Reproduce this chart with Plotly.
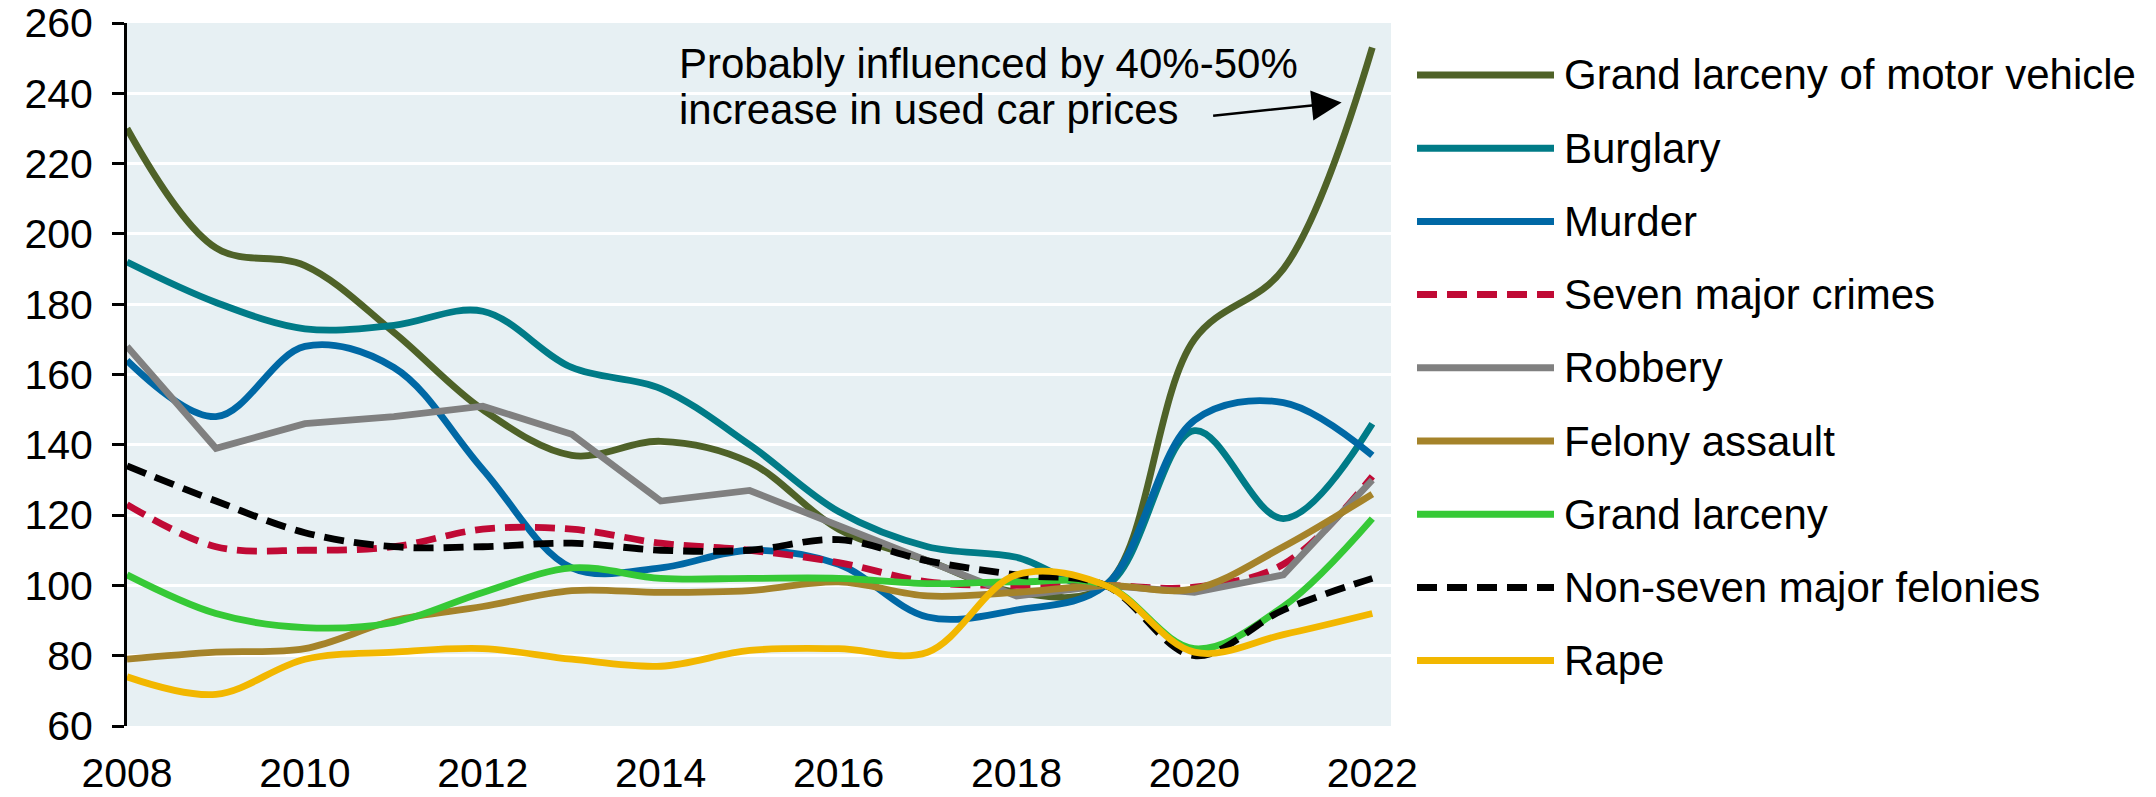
import plotly.graph_objects as go

years = list(range(2008, 2023))

series_names = [
    "Grand larceny of motor vehicle",
    "Burglary",
    "Murder",
    "Seven major crimes",
    "Robbery",
    "Felony assault",
    "Grand larceny",
    "Non-seven major felonies",
    "Rape",
]

motor_vehicle = [230, 196, 191, 172, 150, 137, 141, 135, 116, 107, 98, 100, 170, 190, 253]
burglary = [192, 180.5, 173, 174, 178, 162, 156, 140, 121, 111, 108, 100, 144, 119, 146]
murder = [164, 148, 168, 162, 133, 105, 105, 110, 106, 91, 93, 100, 147, 152, 137]
seven_major = [123, 111, 110, 111, 116, 116, 112, 110, 106.5, 101, 100, 100, 99.5, 106, 131]
robbery = [168, 139, 146, 148, 151, 143, 124, 127, 117, 107, 97, 100, 98, 103, 130]
felony_assault = [79, 81, 82, 90, 94, 98.5, 98, 98.5, 101, 97, 98, 100, 99, 111, 126]
grand_larceny = [103, 92, 88, 89.5, 98, 105, 102, 102, 102, 100.5, 101, 100, 82, 94, 119]
non_seven = [134, 124, 115, 111, 111, 112, 110, 110, 113, 107, 103, 100, 80, 93, 102]
rape = [74, 69, 79, 81, 82, 79, 77, 81.5, 82, 81, 103, 100, 81, 86, 92]

series_values = [motor_vehicle, burglary, murder, seven_major, robbery,
                 felony_assault, grand_larceny, non_seven, rape]

colors = ["#4F6228", "#007B87", "#0068A5", "#C00A35", "#808080",
          "#A5832A", "#36C936", "#000000", "#F2B700"]
dashes = ["solid", "solid", "solid", "20px,10px", "solid",
          "solid", "solid", "20px,10px", "solid"]
shapes_ = ["spline", "spline", "spline", "spline", "linear",
           "spline", "spline", "spline", "spline"]

x_labels = [2008, 2010, 2012, 2014, 2016, 2018, 2020, 2022]
y_ticks = list(range(60, 261, 20))

note_lines = ["Probably influenced by 40%-50%", "increase in used car prices"]

FONT = "Liberation Sans, Arial, sans-serif"
W, H = 2156, 797
L, R, T, B = 127, 765, 23, 71
PW, PH = W - L - R, H - T - B
FS = 42
TFS = 41

def px_x(p):
    return (p - L) / PW

def px_y(p):
    return 1 - (p - T) / PH

fig = go.Figure()
for name, vals, c, d, s in zip(series_names, series_values, colors, dashes, shapes_):
    fig.add_trace(go.Scatter(
        x=years, y=vals, name=name, mode="lines", showlegend=False,
        line=dict(color=c, width=6.8, dash=d, shape=s, smoothing=1),
    ))

# custom legend
shapes = []
annotations = []
for i, (name, c, d) in enumerate(zip(series_names, colors, dashes)):
    yy = px_y(75 + 73.2 * i)
    shapes.append(dict(type="line", xref="paper", yref="paper",
                       x0=px_x(1417), x1=px_x(1554), y0=yy, y1=yy,
                       line=dict(color=c, width=7, dash=d)))
    annotations.append(dict(xref="paper", yref="paper", x=px_x(1562), y=yy,
                            text=name, showarrow=False, xanchor="left",
                            yanchor="middle", font=dict(size=FS, color="black", family=FONT)))

# note text
annotations.append(dict(xref="paper", yref="paper", x=px_x(677), y=px_y(38),
                        text=note_lines[0], showarrow=False, xanchor="left", yanchor="top",
                        font=dict(size=FS, color="black", family=FONT)))
annotations.append(dict(xref="paper", yref="paper", x=px_x(677), y=px_y(84),
                        text=note_lines[1], showarrow=False, xanchor="left", yanchor="top",
                        font=dict(size=FS, color="black", family=FONT)))
# arrow
annotations.append(dict(xref="x", yref="y", x=2021.655, y=237.4, ax=-130, ay=13.4,
                        text="", showarrow=True, arrowhead=2, arrowsize=2.4,
                        arrowwidth=2.5, arrowcolor="black"))

fig.update_layout(
    width=W, height=H,
    margin=dict(l=L, r=R, t=T, b=B, pad=0, autoexpand=False),
    paper_bgcolor="white",
    plot_bgcolor="#E7F0F3",
    font=dict(family=FONT, size=FS, color="black"),
    showlegend=False,
    shapes=shapes,
    annotations=annotations,
    xaxis=dict(range=[2008, 2022.21], tickvals=x_labels, ticktext=[str(v) for v in x_labels],
               showgrid=False, zeroline=False, showline=False, ticks="", automargin=False,
               ticklabeloverflow="allow",
               tickfont=dict(size=TFS, family=FONT, color="black"), ticklabelstandoff=19),
    xaxis2=dict(range=[2008, 2022.21], overlaying="x", anchor="free", position=0.2,
                side="bottom", tick0=2008, dtick=1, ticks="outside", ticklen=10,
                tickwidth=3, tickcolor="black", showline=True, linecolor="black",
                linewidth=3, showticklabels=False, showgrid=False, zeroline=False,
                automargin=False),
    yaxis=dict(range=[60, 260], tickvals=y_ticks, showgrid=True, gridcolor="white",
               gridwidth=3, zeroline=False, showline=True, linecolor="black", linewidth=3,
               ticks="outside", ticklen=12, tickwidth=3, tickcolor="black", automargin=False,
               ticklabeloverflow="allow",
               tickfont=dict(size=TFS, family=FONT, color="black"), ticklabelstandoff=11),
)

fig.write_html("out.html", config={"displayModeBar": False},
               post_script="document.body.style.margin='0px';document.body.style.padding='0px';")
